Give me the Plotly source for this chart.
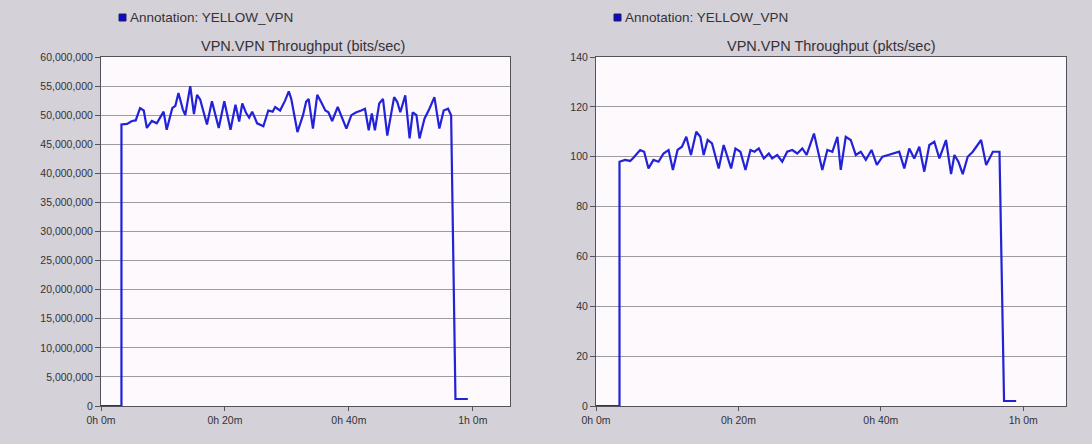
import plotly.graph_objects as go

# ---- data ---------------------------------------------------------------
# elapsed simulation time (minutes) and VPN throughput in bits/sec
bits_time = [0, 3.3, 3.3, 4.2, 5.0, 5.6, 6.3, 6.9, 7.4, 8.2, 9.0, 10.1, 10.6,
             11.5, 12.0, 12.5, 13.2, 13.6, 14.4, 15.0, 15.5, 16.0, 17.1,
             17.9, 19.0, 19.9, 20.9, 21.7, 22.3, 22.8, 23.4, 23.9, 24.4,
             25.2, 26.2, 27.0, 27.7, 28.1, 28.9, 29.7, 30.3,
             30.7, 31.7, 32.6, 33.1, 33.5, 34.2, 34.9, 35.5, 36.2, 36.7,
             37.3, 38.2, 38.9, 39.6, 40.4, 41.2, 42.0, 42.6, 43.2, 43.7,
             44.2, 44.9, 45.5, 46.2, 47.3, 47.8, 48.3, 49.1, 49.8, 50.3,
             50.9, 51.4, 52.2, 53.0, 53.8, 54.6, 55.3, 56.0, 56.5,
             57.2, 59.2]
bits_per_sec = [0, 0, 48.4e6,
                48.5e6, 49.0e6, 49.1e6, 51.2e6, 50.8e6, 47.8e6, 49.0e6, 48.6e6, 50.6e6, 47.5e6,
                51.2e6, 51.6e6, 53.8e6, 51.0e6, 50.0e6, 55.0e6, 50.2e6, 53.5e6, 52.7e6, 48.4e6,
                52.4e6, 47.8e6, 52.4e6, 47.5e6, 51.8e6, 48.9e6, 52.0e6, 50.4e6, 49.6e6, 50.6e6,
                48.6e6, 48.1e6, 50.8e6, 50.6e6, 51.4e6, 50.8e6, 52.5e6, 54.1e6,
                52.8e6, 47.1e6, 50.0e6, 52.3e6, 52.8e6, 47.7e6, 53.5e6, 52.3e6, 50.8e6, 50.5e6,
                49.0e6, 51.4e6, 49.4e6, 47.7e6, 50.0e6, 50.5e6, 50.8e6, 51.1e6, 47.4e6, 50.3e6,
                47.4e6, 52.0e6, 52.8e6, 46.5e6, 53.1e6, 52.3e6, 50.5e6, 53.4e6, 46.0e6, 50.5e6,
                50.0e6, 46.0e6, 49.4e6, 51.1e6, 53.1e6, 47.7e6, 50.8e6, 51.1e6, 50.0e6,
                1.2e6, 1.2e6]

# elapsed simulation time (minutes) and VPN throughput in packets/sec
pkts_time = [0, 3.3, 3.3, 4.08, 4.79, 5.26, 6.2, 6.76, 7.37, 8.07, 8.78, 9.48,
             10.19, 10.8, 11.45, 12.07, 12.68, 13.33, 14.08, 14.65, 15.12,
             15.68, 16.29, 17.23, 17.93, 18.97, 19.58, 20.28, 20.99, 21.69,
             22.25, 22.86, 23.57, 24.27, 24.74, 25.45, 26.15, 26.85, 27.56,
             28.26, 28.97, 29.58, 30.61, 31.17, 31.78, 32.49, 33.19, 33.9,
             34.37, 35.07, 35.77, 36.48, 37.18, 37.89, 38.69, 39.44, 40.23,
             41.03, 41.88, 42.58, 43.29, 43.99, 44.69, 45.4, 46.1, 46.81,
             47.51, 48.22, 49.15, 49.86, 50.33, 50.89, 51.5, 52.2, 52.91,
             54.08, 54.79, 55.73, 56.66, 57.3, 59.0]
pkts_per_sec = [0, 0, 98.0,
                98.7, 98.3, 99.6, 102.7, 102.0, 95.3, 98.7, 98.0, 101.3, 102.7,
                94.7, 102.7, 104.0, 108.0, 100.7, 110.0, 108.0, 100.7, 106.7, 105.3,
                95.3, 104.7, 95.3, 103.3, 102.0, 94.7, 102.7, 102.0, 103.3, 99.3,
                101.3, 99.3, 100.7, 98.0, 102.0, 102.7, 101.3, 103.3, 100.7, 109.3,
                102.0, 94.7, 102.7, 102.0, 108.0, 94.7, 108.0, 106.7, 100.7, 102.0,
                98.7, 102.7, 96.7, 100.0, 100.7, 101.3, 102.0, 95.3, 103.3, 99.3,
                104.0, 94.0, 104.7, 106.0, 99.3, 106.7, 93.0, 100.7, 98.0, 93.0,
                100.0, 102.0, 106.7, 96.7, 102.0, 102.0,
                2.0, 2.0]

time_tick_vals = [0, 20, 40, 60]
time_tick_text = ["0h 0m", "0h 20m", "0h 40m", "1h 0m"]
legend_label = "Annotation: YELLOW_VPN"
titles = ["VPN.VPN Throughput (bits/sec)", "VPN.VPN Throughput (pkts/sec)"]

# ---- styling ------------------------------------------------------------
W, H = 1092, 444
PAGE_BG = "#d4d1d8"
PLOT_BG = "#fdf9fd"
GRID = "#9e9ba2"
FRAME = "#55535a"
LINE = "#2222d8"
TEXT = "#343236"
FONT = "Liberation Sans"


def fx(p):
    return p / W


def fy(p):
    return 1 - p / H


fig = go.Figure()
fig.add_trace(go.Scatter(x=bits_time, y=bits_per_sec, mode="lines",
                         line=dict(color=LINE, width=2.2),
                         xaxis="x", yaxis="y", showlegend=False,
                         hoverinfo="skip"))
fig.add_trace(go.Scatter(x=pkts_time, y=pkts_per_sec, mode="lines",
                         line=dict(color=LINE, width=2.2),
                         xaxis="x2", yaxis="y2", showlegend=False,
                         hoverinfo="skip"))

x_common = dict(range=[0, 66], tickmode="array", tickvals=time_tick_vals,
                ticktext=time_tick_text, ticks="outside", ticklen=4,
                tickcolor=FRAME, showgrid=False, zeroline=False,
                showline=True, mirror=True, linecolor=FRAME, linewidth=1,
                automargin=False,
                tickfont=dict(family=FONT, size=10.5, color=TEXT), fixedrange=True)
y_common = dict(ticks="outside", ticklen=5, tickcolor=FRAME, showgrid=True,
                gridcolor=GRID, gridwidth=1, zeroline=False, showline=True,
                mirror=True, linecolor=FRAME, linewidth=1, automargin=False,
                tickfont=dict(family=FONT, size=10.5, color=TEXT), fixedrange=True)

plot_top, plot_bottom = 57, 406
left_x0, left_x1 = 101, 510
right_x0, right_x1 = 596, 1066

fig.update_layout(
    template="none",
    width=W, height=H, autosize=False,
    margin=dict(l=0, r=0, t=0, b=0, pad=0),
    paper_bgcolor=PAGE_BG, plot_bgcolor=PLOT_BG,
    xaxis=dict(domain=[fx(left_x0), fx(left_x1)], anchor="y", **x_common),
    yaxis=dict(domain=[fy(plot_bottom), fy(plot_top)], anchor="x",
               range=[0, 60e6], dtick=5e6, tickformat=",d", **y_common),
    xaxis2=dict(domain=[fx(right_x0), fx(right_x1)], anchor="y2", **x_common),
    yaxis2=dict(domain=[fy(plot_bottom), fy(plot_top)], anchor="x2",
                range=[0, 140], dtick=20, **y_common),
)

# legend swatches, legend labels and panel titles
shapes = []
annotations = []
for sq_x, txt_x, title_x, title in [(119, 128, 303, titles[0]),
                                     (614, 623, 831, titles[1])]:
    shapes.append(dict(type="rect", xref="paper", yref="paper",
                       x0=fx(sq_x), x1=fx(sq_x + 7), y0=fy(21), y1=fy(14),
                       fillcolor="#0c0cc8", line=dict(color="#20205a", width=1)))
    annotations.append(dict(text=legend_label, xref="paper", yref="paper",
                            x=fx(txt_x), y=fy(17.5), xanchor="left",
                            yanchor="middle", showarrow=False,
                            font=dict(family=FONT, size=13.5, color=TEXT)))
    annotations.append(dict(text=title, xref="paper", yref="paper",
                            x=fx(title_x), y=fy(46), xanchor="center",
                            yanchor="middle", showarrow=False,
                            font=dict(family=FONT, size=14.5, color=TEXT)))

fig.update_layout(shapes=shapes, annotations=annotations)

fig.write_html("out.html", config={"displayModeBar": False})
